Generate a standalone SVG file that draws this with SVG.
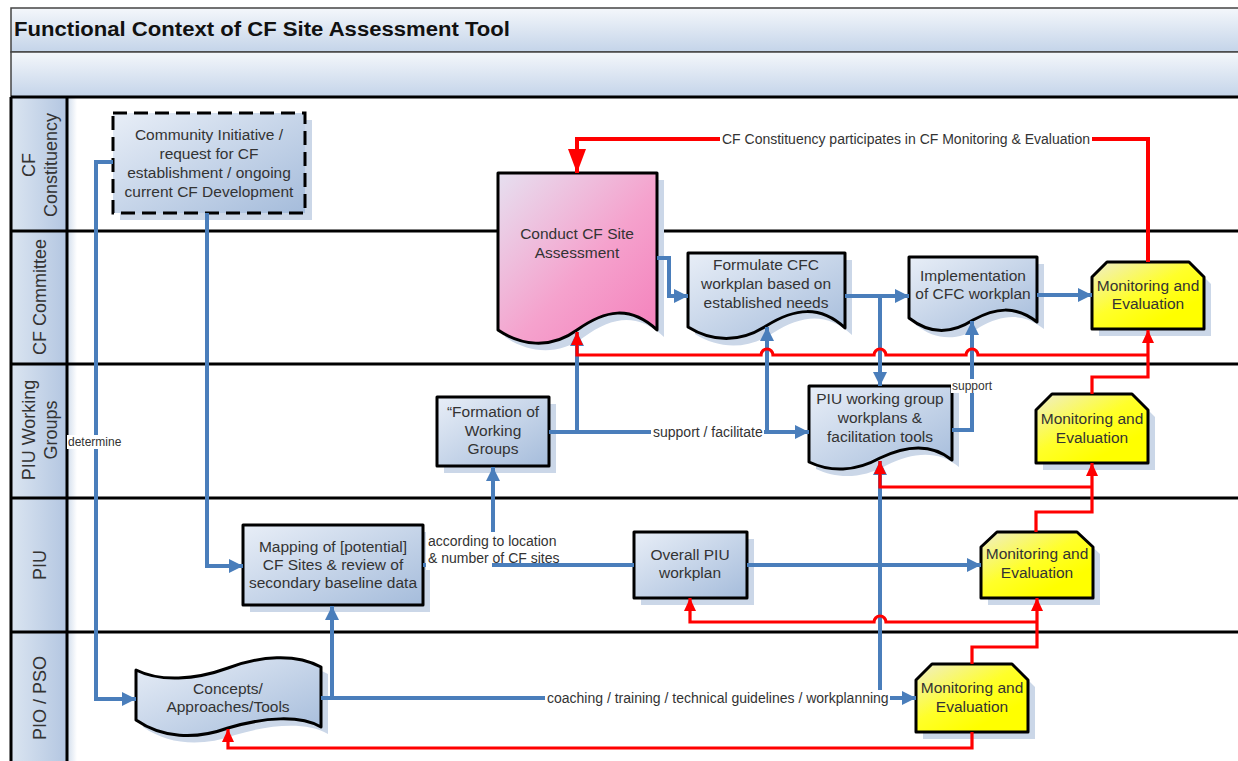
<svg xmlns="http://www.w3.org/2000/svg" width="1238" height="761" viewBox="0 0 1238 761">
<style>
.lane{stroke:#000;stroke-width:3;fill:none}
.hdr{font-family:"Liberation Sans",Arial,sans-serif;font-size:18px;fill:#333;text-anchor:middle}
.nt{font-family:"Liberation Sans",Arial,sans-serif;font-size:15.5px;fill:#333;text-anchor:middle}
.lb{font-family:"Liberation Sans",Arial,sans-serif;font-size:14px;fill:#333}
.lbs{font-family:"Liberation Sans",Arial,sans-serif;font-size:12px;fill:#333}
.sh{fill:#cbd7e8}
.nb{fill:url(#gBlue);stroke:#000;stroke-width:3;stroke-linejoin:round}
.ny{fill:url(#gYel);stroke:#000;stroke-width:3;stroke-linejoin:round}
.blue{fill:none;stroke:#4a7ebb;stroke-width:4}
.red{fill:none;stroke:#ff0000;stroke-width:3.2}
.bg{fill:#fff}
</style>
<defs>
<linearGradient id="gBlue" x1="0" y1="0" x2="1" y2="1"><stop offset="0" stop-color="#e8eef7"/><stop offset="1" stop-color="#a5bcdb"/></linearGradient>
<linearGradient id="gPink" x1="0" y1="0" x2="1" y2="1"><stop offset="0" stop-color="#e6e0f0"/><stop offset="0.55" stop-color="#f5a2cd"/><stop offset="1" stop-color="#f47fbb"/></linearGradient>
<linearGradient id="gYel" x1="0" y1="0" x2="0.7" y2="0.8"><stop offset="0" stop-color="#efedcc"/><stop offset="0.6" stop-color="#ffff2a"/><stop offset="1" stop-color="#ffff00"/></linearGradient>
<linearGradient id="gBand" x1="0" y1="0" x2="0" y2="1"><stop offset="0" stop-color="#f4f7fb"/><stop offset="1" stop-color="#c4d4e9"/></linearGradient>
<linearGradient id="gHdr" x1="0" y1="0" x2="1" y2="0"><stop offset="0" stop-color="#dbe5f1"/><stop offset="1" stop-color="#b3c6e1"/></linearGradient>
<linearGradient id="gStrip" x1="0" y1="0" x2="1" y2="0"><stop offset="0" stop-color="#d5e0ee"/><stop offset="1" stop-color="#ffffff"/></linearGradient>
<marker id="ab" viewBox="0 0 14 14" refX="14" refY="7" markerWidth="14" markerHeight="14" markerUnits="userSpaceOnUse" orient="auto"><path d="M0,0 L14,7 L0,14 Z" fill="#4a7ebb"/></marker>
<marker id="ar" viewBox="0 0 13 12" refX="13" refY="6" markerWidth="13" markerHeight="12" markerUnits="userSpaceOnUse" orient="auto"><path d="M0,0 L13,6 L0,12 Z" fill="#ff0000"/></marker>
<marker id="arBig" viewBox="0 0 24 18" refX="24" refY="9" markerWidth="24" markerHeight="18" markerUnits="userSpaceOnUse" orient="auto"><path d="M0,0 L24,9 L0,18 Z" fill="#ff0000"/></marker>
</defs>
<rect x="0" y="0" width="1238" height="761" fill="#fff"/>
<g id="pool">
<rect x="11" y="8" width="1230" height="44" fill="url(#gBand)" stroke="#444" stroke-width="1.5"/>
<rect x="11" y="52" width="1230" height="45" fill="url(#gBand)" stroke="#444" stroke-width="1.5"/>
<text x="14" y="36" font-family="Liberation Sans, Arial, sans-serif" font-size="20" font-weight="bold" fill="#111" textLength="496" lengthAdjust="spacingAndGlyphs">Functional Context of CF Site Assessment Tool</text>
<rect x="11" y="97" width="56" height="664" fill="url(#gHdr)"/>
<rect x="68" y="97" width="9" height="664" fill="url(#gStrip)"/>
<path class="lane" d="M11,97 H1238 M11,231 H1238 M11,364 H1238 M11,498 H1238 M11,632 H1238 M11,97 V761 M67,97 V761"/>
<text class="hdr" transform="translate(35,165) rotate(-90)">CF</text>
<text class="hdr" transform="translate(57,165) rotate(-90)">Constituency</text>
<text class="hdr" transform="translate(46,297) rotate(-90)">CF Committee</text>
<text class="hdr" transform="translate(35,430) rotate(-90)">PIU Working</text>
<text class="hdr" transform="translate(57,430) rotate(-90)">Groups</text>
<text class="hdr" transform="translate(46,565) rotate(-90)">PIU</text>
<text class="hdr" transform="translate(46,698) rotate(-90)">PIO / PSO</text>
</g>
<g id="n-community">
<rect class="sh" x="120" y="120" width="192" height="100"/>
<rect x="113" y="113" width="192" height="100" fill="url(#gBlue)" stroke="#000" stroke-width="3" stroke-dasharray="14,7"/>
<text class="nt" x="209" y="140">Community Initiative /</text>
<text class="nt" x="209" y="159">request for CF</text>
<text class="nt" x="209" y="178">establishment / ongoing</text>
<text class="nt" x="209" y="197">current CF Development</text>
</g>
<g id="n-conduct">
<path class="sh" d="M505,180 H664 V337 C637,312 612,317 584,337 C557,357 527,352 505,337 Z"/>
<path d="M498,173 H657 V330 C630,305 605,310 577,330 C550,350 520,345 498,330 Z" fill="url(#gPink)" stroke="#000" stroke-width="3" stroke-linejoin="round"/>
<text class="nt" x="577" y="239">Conduct CF Site</text>
<text class="nt" x="577" y="258">Assessment</text>
</g>
<g id="n-formulate">
<path class="sh" d="M695,260 H852 V335 C827,312 802,315 773,333 C747,350 719,349 695,334 Z"/>
<path class="nb" d="M688,253 H845 V328 C820,305 795,308 766,326 C740,343 712,342 688,327 Z"/>
<text class="nt" x="766" y="270">Formulate CFC</text>
<text class="nt" x="766" y="289">workplan based on</text>
<text class="nt" x="766" y="308">established needs</text>
</g>
<g id="n-implement">
<path class="sh" d="M916,264 H1044 V329 C1022,312 1002,315 980,327 C957,342 935,340 916,325 Z"/>
<path class="nb" d="M909,257 H1037 V322 C1015,305 995,308 973,320 C950,335 928,333 909,318 Z"/>
<text class="nt" x="973" y="281">Implementation</text>
<text class="nt" x="973" y="299">of CFC workplan</text>
</g>
<g id="n-me-committee">
<path class="sh" d="M1099,284 L1114,269 H1196 L1211,284 V336 H1099 Z"/>
<path class="ny" d="M1092,277 L1107,262 H1189 L1204,277 V329 H1092 Z"/>
<text class="nt" x="1148" y="291">Monitoring and</text>
<text class="nt" x="1148" y="309">Evaluation</text>
</g>
<g id="n-formation">
<rect class="sh" x="444" y="404" width="112" height="69"/>
<rect class="nb" x="437" y="397" width="112" height="69"/>
<text class="nt" x="493" y="417">“Formation of</text>
<text class="nt" x="493" y="436">Working</text>
<text class="nt" x="493" y="454">Groups</text>
</g>
<g id="n-piuwg">
<path class="sh" d="M816,393 H959 V467 C937,449 912,453 887,465 C862,479 837,479 816,469 Z"/>
<path class="nb" d="M809,386 H952 V460 C930,442 905,446 880,458 C855,472 830,472 809,462 Z"/>
<text class="nt" x="880" y="404">PIU working group</text>
<text class="nt" x="880" y="423">workplans &amp;</text>
<text class="nt" x="880" y="442">facilitation tools</text>
</g>
<g id="n-me-wg">
<path class="sh" d="M1043,417 L1059,401 H1139 L1155,417 V470 H1043 Z"/>
<path class="ny" d="M1036,410 L1052,394 H1132 L1148,410 V463 H1036 Z"/>
<text class="nt" x="1092" y="424">Monitoring and</text>
<text class="nt" x="1092" y="443">Evaluation</text>
</g>
<g id="n-mapping">
<rect class="sh" x="250" y="532" width="180" height="80"/>
<rect class="nb" x="243" y="525" width="180" height="80"/>
<text class="nt" x="333" y="552">Mapping of [potential]</text>
<text class="nt" x="333" y="570">CF Sites &amp; review of</text>
<text class="nt" x="333" y="588">secondary baseline data</text>
</g>
<g id="n-overall">
<rect class="sh" x="641" y="539" width="113" height="66"/>
<rect class="nb" x="634" y="532" width="113" height="66"/>
<text class="nt" x="690" y="560">Overall PIU</text>
<text class="nt" x="690" y="578">workplan</text>
</g>
<g id="n-me-piu">
<path class="sh" d="M988,554 L1004,539 H1084 L1100,554 V605 H988 Z"/>
<path class="ny" d="M981,547 L997,532 H1077 L1093,547 V598 H981 Z"/>
<text class="nt" x="1037" y="559">Monitoring and</text>
<text class="nt" x="1037" y="578">Evaluation</text>
</g>
<g id="n-concepts">
<path class="sh" d="M143,677 C167,689 202,687 235,675 C267,663 302,660 328,674 V734 C307,722 272,724 235,735 C202,747 169,745 143,727 Z"/>
<path class="nb" d="M136,670 C160,682 195,680 228,668 C260,656 295,653 321,667 V727 C300,715 265,717 228,728 C195,740 162,738 136,720 Z"/>
<text class="nt" x="228" y="694">Concepts/</text>
<text class="nt" x="228" y="712">Approaches/Tools</text>
</g>
<g id="n-me-pio">
<path class="sh" d="M923,687 L939,671 H1019 L1035,687 V739 H923 Z"/>
<path class="ny" d="M916,680 L932,664 H1012 L1028,680 V732 H916 Z"/>
<text class="nt" x="972" y="693">Monitoring and</text>
<text class="nt" x="972" y="712">Evaluation</text>
</g>
<g id="connectors">
<path class="blue" d="M113,162 H96 V699 H136" marker-end="url(#ab)"/>
<path class="blue" d="M207,213 V566 H243" marker-end="url(#ab)"/>
<path class="blue" d="M321,698 H916" marker-end="url(#ab)"/>
<path class="blue" d="M332,698 V606" marker-end="url(#ab)"/>
<path class="blue" d="M880,698 V461" marker-end="url(#ab)"/>
<path class="blue" d="M423,565 H493 V467" marker-end="url(#ab)"/>
<path class="blue" d="M493,565 H634"/>
<path class="blue" d="M747,565 H981" marker-end="url(#ab)"/>
<path class="blue" d="M549,432 H809" marker-end="url(#ab)"/>
<path class="blue" d="M577,432 V332" marker-end="url(#ab)"/>
<path class="blue" d="M767,432 V327" marker-end="url(#ab)"/>
<path class="blue" d="M657,258 H669 V296 H688" marker-end="url(#ab)"/>
<path class="blue" d="M845,296 H909" marker-end="url(#ab)"/>
<path class="blue" d="M880,296 V386" marker-end="url(#ab)"/>
<path class="blue" d="M1037,295 H1092" marker-end="url(#ab)"/>
<path class="blue" d="M952,430 H972 V321" marker-end="url(#ab)"/>
<path class="red" style="stroke-width:4" d="M1148,262 V139 H577 V173" marker-end="url(#arBig)"/>
<path class="red" d="M1092,394 V377 H1148 V330" marker-end="url(#ar)"/>
<path class="red" d="M1148,355 H978 a6,6 0 0 0 -12,0 H886 a6,6 0 0 0 -12,0 H773 a6,6 0 0 0 -12,0 H577 V332" marker-end="url(#ar)"/>
<path class="red" d="M1036,532 V512 H1092 V463" marker-end="url(#ar)"/>
<path class="red" d="M1092,487 H880 V461" marker-end="url(#ar)"/>
<path class="red" d="M972,664 V647 H1037 V598" marker-end="url(#ar)"/>
<path class="red" d="M1037,622 H886 a6,6 0 0 0 -12,0 H690 V598" marker-end="url(#ar)"/>
<path class="red" d="M972,732 V748 H228 V729" marker-end="url(#ar)"/>
<rect class="bg" x="720" y="131" width="372" height="16"/>
<text class="lb" x="722" y="144">CF Constituency participates in CF Monitoring &amp; Evaluation</text>
<rect class="bg" x="67" y="435" width="56" height="14"/>
<text class="lbs" x="68" y="446">determine</text>
<rect class="bg" x="651" y="424" width="113" height="16"/>
<text class="lb" x="653" y="437">support / facilitate</text>
<rect class="bg" x="951" y="379" width="43" height="14"/>
<text class="lbs" x="952" y="390">support</text>
<rect class="bg" x="426" y="532" width="66" height="38"/>
<rect class="bg" x="492" y="532" width="67" height="31"/>
<text class="lb" x="428" y="546">according to location</text>
<text class="lb" x="428" y="563">&amp; number of CF sites</text>
<rect class="bg" x="545" y="690" width="345" height="16"/>
<text class="lb" x="547" y="703">coaching / training / technical guidelines / workplanning</text>
</g>
</svg>
